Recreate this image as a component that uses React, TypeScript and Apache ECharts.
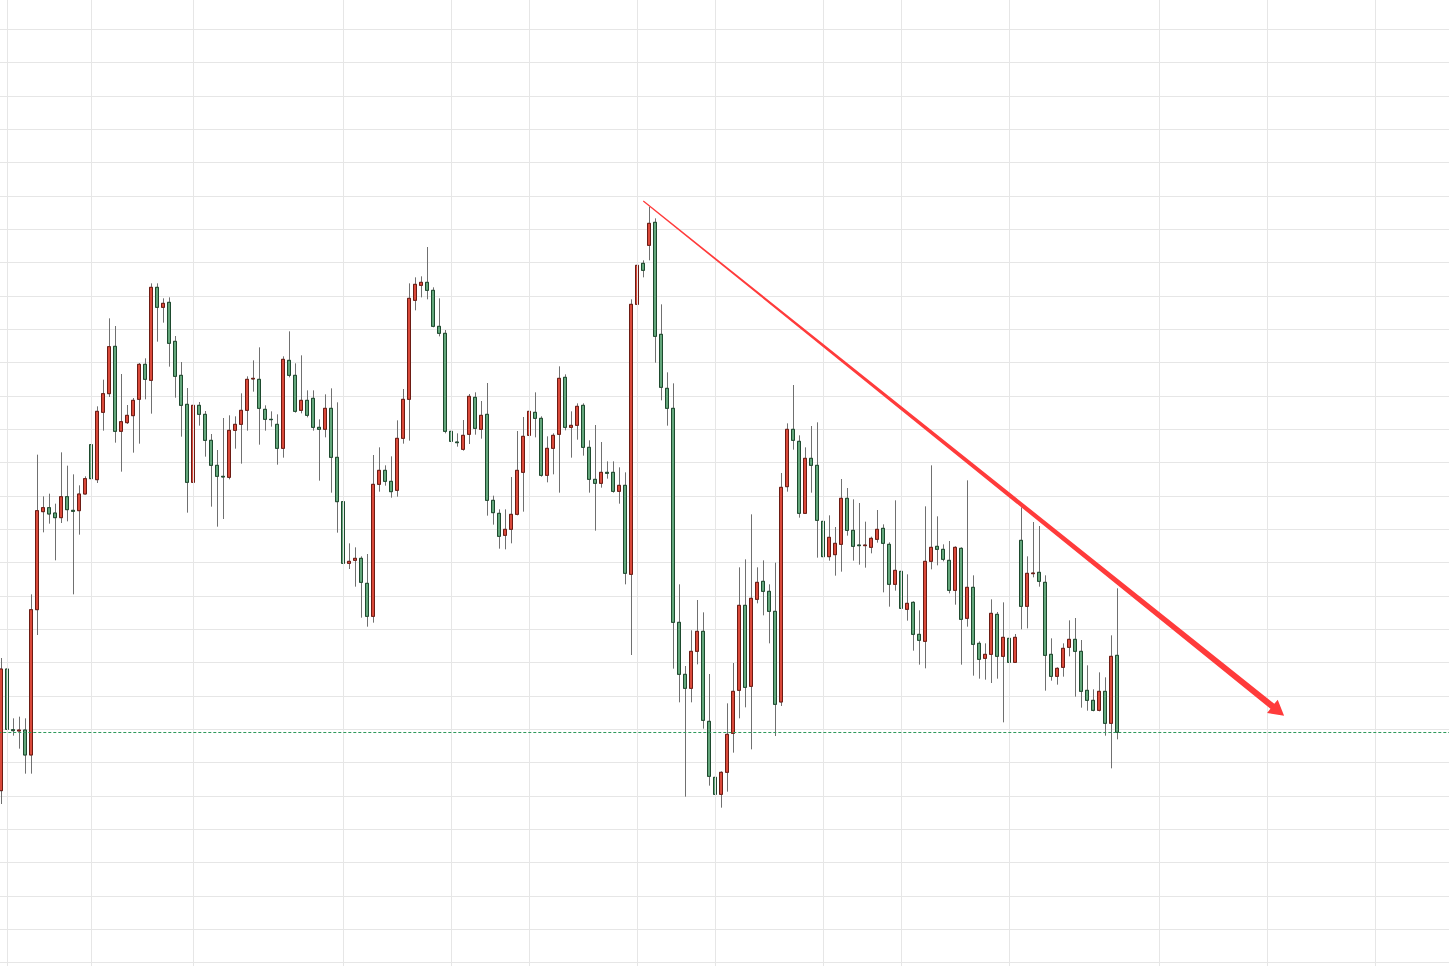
import React, { useEffect, useRef } from 'react';
import * as echarts from 'echarts';

const opens = [
  61.6, 98.1, 79.9, 79.5, 79.8, 72.3, 115.9, 145.3, 146.5, 144.9,
  143.5, 149.8, 145.7, 145.6, 150.6, 165.4, 154.9, 175.1, 180.7, 194.9,
  169.4, 172.0, 174.1, 179.0, 189.5, 184.7, 212.6, 206.6, 208.1, 196.4,
  186.2, 177.5, 154.1, 177.2, 174.5, 166.7, 159.2, 155.9, 155.6, 169.7,
  171.5, 175.7, 185.1, 185.0, 176.0, 173.0, 171.5, 164.3, 190.7, 186.2,
  175.7, 178.7, 179.3, 170.6, 170.0, 176.3, 161.6, 148.3, 129.8, 130.7,
  131.3, 123.8, 113.9, 153.5, 157.7, 154.4, 151.7, 167.3, 179.0, 208.7,
  213.2, 214.1, 211.7, 200.9, 198.8, 169.4, 166.2, 164.0, 168.5, 179.6,
  170.0, 174.5, 148.7, 144.8, 138.2, 140.0, 144.5, 157.1, 168.2, 175.1,
  173.3, 156.2, 164.3, 168.5, 185.6, 170.6, 171.2, 177.2, 164.6, 155.0,
  153.8, 157.1, 157.1, 151.4, 153.2, 126.5, 207.5, 219.8, 225.2, 232.1,
  198.5, 182.3, 176.3, 112.1, 96.5, 92.3, 103.4, 109.4, 82.4, 65.6,
  60.5, 67.1, 78.8, 91.7, 117.2, 92.9, 119.0, 124.4, 121.4, 115.4,
  88.2, 152.8, 170.0, 166.4, 144.8, 161.3, 159.2, 142.4, 131.8, 132.4,
  135.5, 149.3, 139.7, 135.3, 135.1, 134.6, 137.0, 140.3, 135.5, 123.5,
  127.4, 116.0, 118.1, 108.5, 106.4, 130.4, 134.9, 134.0, 130.7, 121.7,
  134.3, 113.3, 122.6, 105.8, 101.3, 102.5, 114.5, 101.9, 107.3, 100.1,
  136.7, 116.9, 126.7, 127.1, 124.1, 102.5, 95.9, 98.6, 104.6, 107.0,
  103.4, 91.7, 88.7, 85.7, 91.4, 81.8, 102.2,
];

const closes = [
  98.1, 80.0, 79.6, 79.8, 72.3, 115.9, 145.6, 146.5, 144.6, 143.5,
  149.8, 145.9, 145.4, 150.6, 155.2, 155.2, 175.4, 180.7, 194.8, 169.4,
  172.3, 174.2, 178.7, 189.5, 185.0, 212.6, 206.6, 207.8, 195.8, 185.9,
  177.2, 154.1, 177.2, 174.5, 166.7, 159.2, 155.9, 155.7, 169.7, 171.5,
  175.7, 185.0, 185.3, 176.3, 173.0, 172.9, 164.3, 191.0, 186.2, 175.4,
  178.7, 174.2, 170.6, 170.0, 176.3, 161.6, 148.3, 129.8, 130.4, 131.3,
  124.1, 113.9, 153.5, 157.7, 154.4, 151.3, 167.3, 179.0, 209.3, 213.5,
  214.1, 211.7, 200.9, 198.8, 169.4, 166.4, 166.0, 168.2, 179.9, 170.3,
  174.2, 148.7, 145.0, 137.9, 140.0, 144.5, 157.7, 167.9, 175.4, 173.3,
  156.2, 164.3, 168.2, 185.3, 170.6, 171.2, 176.9, 164.6, 155.0, 153.8,
  157.1, 156.8, 151.4, 153.2, 126.8, 207.5, 219.2, 217.7, 231.8, 197.9,
  182.6, 176.3, 112.1, 96.5, 92.3, 103.4, 109.4, 82.7, 65.9, 60.5,
  67.1, 78.5, 91.4, 117.2, 92.6, 119.3, 124.1, 121.4, 115.4, 87.5,
  152.6, 170.0, 166.7, 144.8, 161.3, 159.2, 142.7, 131.8, 137.6, 135.8,
  149.3, 139.7, 134.9, 135.1, 135.3, 137.3, 140.0, 135.8, 123.5, 127.7,
  116.3, 117.8, 108.5, 106.7, 130.4, 134.6, 134.0, 131.0, 121.7, 134.6,
  113.0, 122.6, 105.5, 101.0, 102.5, 114.8, 101.9, 107.6, 100.1, 107.6,
  116.9, 126.8, 126.9, 124.4, 102.2, 95.9, 98.3, 104.3, 107.0, 103.4,
  91.4, 88.7, 85.7, 91.4, 81.8, 101.9, 79.1,
];

const lows = [
  57.6, 78.3, 78.1, 74.2, 66.7, 66.7, 108.3, 139.1, 141.7, 130.7,
  141.9, 142.4, 120.5, 138.4, 150.5, 147.6, 153.9, 169.6, 179.7, 166.0,
  157.3, 171.6, 163.0, 165.7, 179.0, 174.7, 196.3, 202.0, 188.8, 179.5,
  167.8, 145.0, 147.8, 171.1, 161.8, 146.8, 140.8, 143.1, 155.0, 164.2,
  159.7, 169.6, 181.3, 165.4, 169.6, 170.8, 159.4, 161.5, 185.6, 175.0,
  174.8, 173.6, 169.6, 154.6, 167.6, 151.0, 139.0, 127.3, 128.1, 122.8,
  113.5, 110.8, 112.0, 151.3, 153.1, 149.5, 149.8, 165.7, 166.6, 205.7,
  209.6, 209.0, 200.6, 197.9, 168.8, 158.2, 164.8, 163.6, 165.6, 168.4,
  167.2, 144.1, 141.4, 134.2, 134.0, 135.8, 144.2, 145.3, 161.5, 167.6,
  155.8, 154.1, 156.5, 151.0, 169.7, 161.5, 166.9, 162.1, 151.0, 139.6,
  152.5, 155.2, 151.0, 147.7, 123.5, 102.3, 204.5, 215.6, 220.7, 190.0,
  178.7, 171.1, 98.2, 88.1, 59.8, 88.1, 99.5, 80.2, 63.1, 52.3,
  56.5, 61.3, 73.0, 83.3, 86.6, 74.0, 117.8, 114.2, 105.8, 78.0,
  87.0, 151.3, 163.9, 143.5, 144.7, 151.0, 131.5, 124.3, 130.6, 126.1,
  127.3, 138.1, 130.6, 129.4, 128.5, 132.8, 136.0, 121.1, 116.8, 121.6,
  111.1, 112.6, 103.6, 99.4, 98.3, 128.0, 129.2, 130.4, 120.8, 117.4,
  99.4, 110.8, 96.1, 95.2, 94.9, 93.9, 95.2, 82.1, 98.8, 100.1,
  110.0, 110.3, 125.6, 122.8, 91.6, 94.6, 93.4, 95.8, 101.9, 89.8,
  86.5, 85.6, 85.4, 85.4, 78.1, 68.3, 77.0,
];

const highs = [
  101.4, 98.5, 83.3, 83.8, 83.3, 120.5, 162.4, 149.9, 150.7, 147.7,
  163.1, 159.1, 156.5, 153.2, 155.9, 168.8, 176.9, 184.9, 203.3, 201.0,
  186.6, 177.3, 179.4, 189.9, 191.3, 213.8, 213.8, 209.3, 209.6, 198.0,
  190.2, 182.4, 180.6, 178.2, 175.5, 168.6, 163.8, 173.4, 174.2, 173.9,
  180.8, 185.9, 190.7, 194.6, 177.2, 175.4, 174.5, 191.9, 199.4, 189.8,
  192.2, 181.7, 181.7, 173.0, 180.5, 182.3, 178.1, 155.3, 135.8, 134.6,
  131.9, 132.6, 162.3, 164.6, 159.2, 161.9, 172.7, 182.1, 213.8, 215.6,
  215.9, 224.7, 212.6, 209.3, 199.8, 169.5, 168.8, 172.8, 180.6, 181.1,
  178.5, 183.9, 150.1, 146.0, 146.0, 155.7, 169.5, 173.7, 178.5, 181.1,
  173.9, 167.9, 168.8, 188.9, 186.5, 175.4, 177.8, 177.8, 166.7, 171.3,
  166.2, 160.4, 160.4, 158.6, 157.1, 209.0, 229.1, 220.7, 236.7, 233.3,
  207.5, 187.1, 183.8, 123.5, 99.0, 109.7, 118.8, 115.1, 96.6, 76.8,
  67.4, 87.8, 99.9, 128.6, 131.0, 144.5, 128.6, 130.7, 123.5, 130.0,
  156.9, 171.8, 183.3, 168.2, 164.6, 171.0, 172.1, 145.4, 144.2, 140.7,
  155.1, 152.4, 149.0, 147.9, 142.3, 137.8, 145.8, 141.5, 136.1, 148.7,
  132.5, 126.5, 118.4, 115.7, 146.9, 159.2, 143.9, 135.5, 136.5, 134.9,
  134.6, 154.7, 126.2, 106.4, 105.8, 119.0, 115.2, 118.1, 117.0, 108.6,
  146.6, 131.9, 142.2, 141.0, 126.2, 107.3, 98.6, 105.8, 112.7, 113.4,
  106.8, 99.2, 92.0, 97.1, 95.6, 108.2, 122.3,
];

// category slots (candles + empty future space on the right)
const slotCount = 242;
const categories = Array.from({ length: slotCount }, (_, i) => String(i));
// slots where the vertical (period) grid lines fall
const periodLineSlots = [1, 15, 32, 57, 75, 88, 106, 119, 137, 150, 168, 193, 211, 229];

// hand-drawn trend arrow annotation: [slot, price]
const trendStart = [107, 238.5];
const trendTip = [213.8, 84.1];

export default function App() {
  const ref = useRef<HTMLDivElement>(null);

  useEffect(() => {
    const chart = echarts.init(ref.current as HTMLDivElement, null, { renderer: 'svg' });
    const full = opens.map((o, i) => [o, closes[i], lows[i], highs[i]]);
    const bodies = opens.map((o, i) => {
      const c = closes[i];
      return [o, c, Math.min(o, c), Math.max(o, c)];
    });
    const lastClose = closes[closes.length - 1];

    chart.setOption({
      animation: false,
      backgroundColor: '#ffffff',
      grid: {
        left: -1.7,
        top: -4,
        width: 1452,
        height: 1000,
        containLabel: false,
        outerBoundsMode: 'none',
      },
      xAxis: {
        type: 'category',
        data: categories,
        boundaryGap: true,
        axisLine: { show: false },
        axisTick: { show: false },
        axisLabel: { show: false },
        splitLine: { show: false },
      },
      yAxis: {
        type: 'value',
        min: 0,
        max: 300,
        interval: 10,
        axisLine: { show: false },
        axisTick: { show: false },
        axisLabel: { show: false },
        splitLine: { show: true, lineStyle: { color: '#e6e6e6', width: 1 } },
      },
      series: [
        {
          type: 'line',
          data: [],
          z: 1,
          silent: true,
          markLine: {
            silent: true,
            animation: false,
            symbol: ['none', 'none'],
            label: { show: false },
            emphasis: { disabled: true },
            lineStyle: { color: '#e6e6e6', width: 1, type: 'solid' },
            data: periodLineSlots.map((s) => ({ xAxis: String(s) })),
          },
        },
        {
          type: 'candlestick',
          data: full,
          z: 2,
          silent: true,
          barWidth: 3.4,
          itemStyle: {
            color: 'rgba(0,0,0,0)',
            color0: 'rgba(0,0,0,0)',
            borderColor: '#707070',
            borderColor0: '#707070',
            borderWidth: 1,
          },
        },
        {
          type: 'candlestick',
          data: bodies,
          z: 3,
          silent: true,
          barWidth: 3.4,
          itemStyle: {
            color: '#d9493a',
            color0: '#63a67b',
            borderColor: '#6d1b13',
            borderColor0: '#1d4a2e',
            borderWidth: 1,
          },
          markLine: {
            silent: true,
            animation: false,
            symbol: ['none', 'none'],
            label: { show: false },
            emphasis: { disabled: true },
            lineStyle: { color: '#2f9a5c', width: 1, type: [3, 2], opacity: 1 },
            data: [{ yAxis: lastClose, lineStyle: { color: '#2f9a5c' } }],
          },
        },
      ],
    });

    // build the tapered arrow from data coordinates
    const x0 = chart.convertToPixel({ xAxisIndex: 0 }, 0) as number;
    const x100 = chart.convertToPixel({ xAxisIndex: 0 }, 100) as number;
    const step = (x100 - x0) / 100;
    const toPx = (p: number[]) => [
      x0 + p[0] * step,
      chart.convertToPixel({ yAxisIndex: 0 }, p[1]) as number,
    ];
    const S = toPx(trendStart);
    const T = toPx(trendTip);
    const dx = T[0] - S[0];
    const dy = T[1] - S[1];
    const len = Math.sqrt(dx * dx + dy * dy);
    const ux = dx / len;
    const uy = dy / len;
    const nx = -uy;
    const ny = ux;
    const headLen = 15;
    const headHalf = 8.5;
    const w0 = 0.6;
    const w1 = 3.1;
    const B = [T[0] - ux * headLen, T[1] - uy * headLen];
    const pts = [
      [S[0] + nx * w0, S[1] + ny * w0],
      [B[0] + nx * w1, B[1] + ny * w1],
      [B[0] + nx * headHalf, B[1] + ny * headHalf],
      [T[0], T[1]],
      [B[0] - nx * headHalf, B[1] - ny * headHalf],
      [B[0] - nx * w1, B[1] - ny * w1],
      [S[0] - nx * w0, S[1] - ny * w0],
    ];
    chart.setOption({
      graphic: [
        {
          type: 'polygon',
          silent: true,
          z: 100,
          shape: { points: pts },
          style: { fill: '#ff3b3b' },
        },
      ],
    });

    return () => {
      chart.dispose();
    };
  }, []);

  return (
    <div
      ref={ref}
      style={{ position: 'fixed', left: 0, top: 0, width: 1449, height: 966, background: '#fff' }}
    />
  );
}
